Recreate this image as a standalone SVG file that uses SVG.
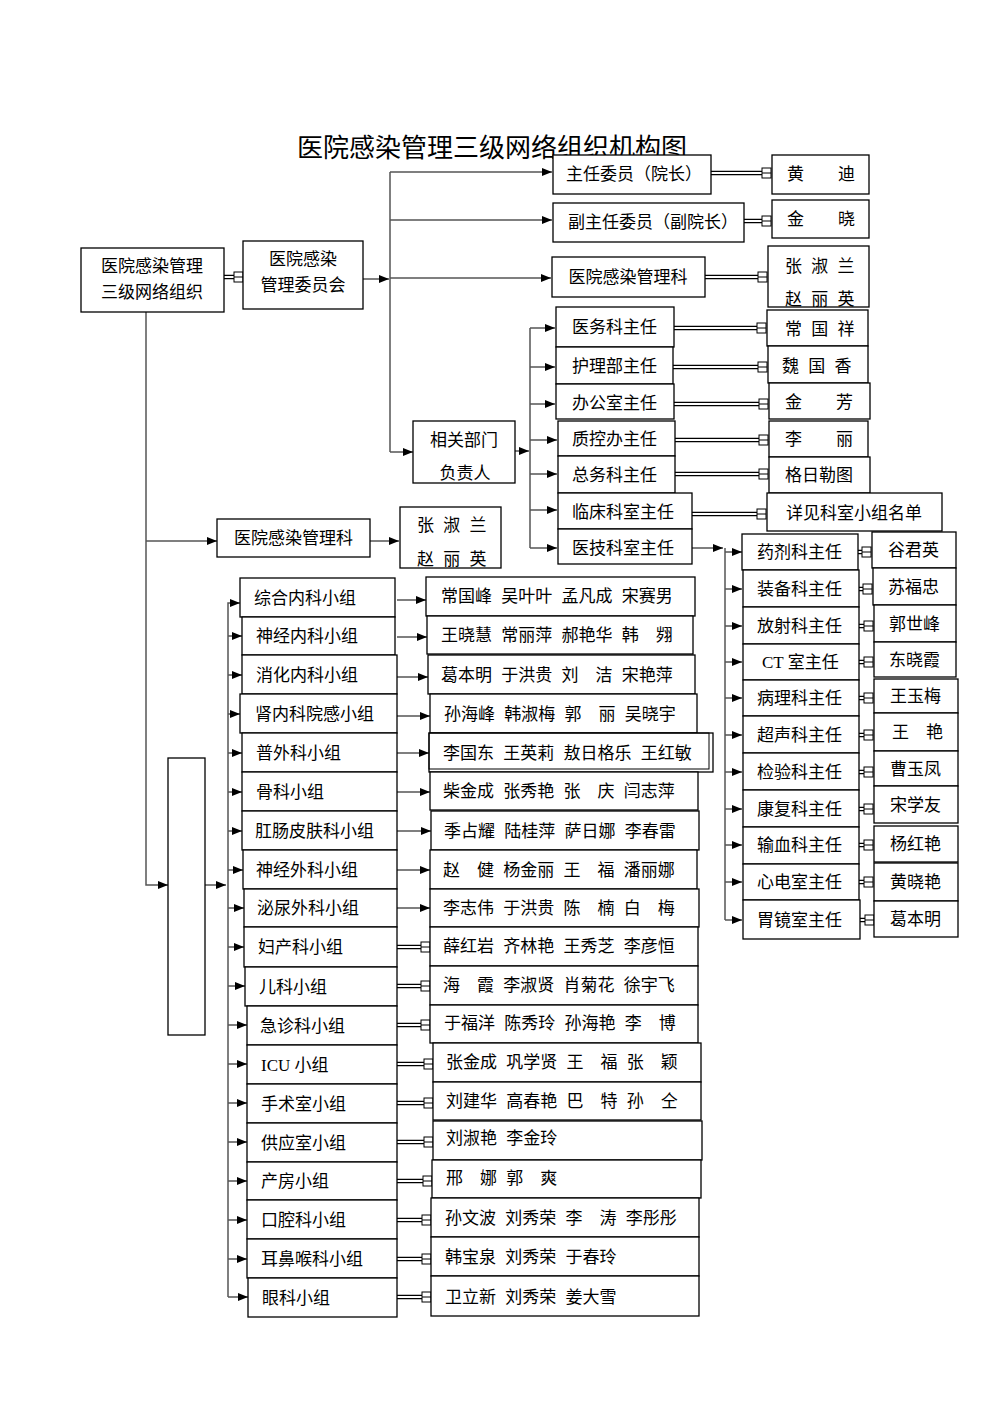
<svg xmlns="http://www.w3.org/2000/svg" xmlns:xlink="http://www.w3.org/1999/xlink" width="992" height="1404" viewBox="0 0 992 1404">
<style>
.box{fill:#fff;stroke:#000;stroke-width:1.3}
.t{font-family:"Liberation Serif","Noto Sans CJK SC",serif;font-size:17px;fill:#000;word-spacing:5px}
.nw{word-spacing:0}
.c{text-anchor:middle}
.title{font-family:"Liberation Serif","Noto Sans CJK SC",serif;font-size:26px;fill:#000;text-anchor:middle}
.ln{fill:none;stroke:#555;stroke-width:1.5}
.arr{marker-end:url(#ah)}
.dbo{fill:none;stroke:#000;stroke-width:4.5}
.dbi{fill:none;stroke:#fff;stroke-width:2}
</style>
<defs>
<marker id="ah" markerUnits="userSpaceOnUse" markerWidth="11" markerHeight="9" refX="10" refY="4" orient="auto"><path d="M0,0 L10,4 L0,8 z" fill="#000"/></marker>
<g id="sq"><rect x="0" y="-5" width="9" height="10" fill="#fff" stroke="#000" stroke-width="1"/><line x1="0" y1="0" x2="9" y2="0" stroke="#000" stroke-width="1"/></g>
</defs>
<rect width="992" height="1404" fill="#fff"/>
<text class="title" x="492" y="157">医院感染管理三级网络组织机构图</text>

<g id="connectors">
<path class="ln arr" d="M363 279 H389"/>
<path class="ln" d="M390 172 V452"/>
<path class="ln arr" d="M390 172 H552"/>
<path class="ln arr" d="M390 220 H552"/>
<path class="ln arr" d="M390 278 H551"/>
<path class="ln arr" d="M390 452 H413"/>
<path class="ln arr" d="M515 451 H529"/>
<path class="ln" d="M530 328 V548"/>
<path class="ln arr" d="M530 328 H555"/>
<path class="ln arr" d="M530 367 H555"/>
<path class="ln arr" d="M530 404 H555"/>
<path class="ln arr" d="M530 440 H557"/>
<path class="ln arr" d="M530 474 H557"/>
<path class="ln arr" d="M530 510 H557"/>
<path class="ln arr" d="M530 548 H557"/>
<path class="ln arr" d="M692 548 H723"/>
<path class="ln" d="M725 548 V920"/>
<path class="ln arr" d="M725 552 H742"/>
<path class="ln arr" d="M725 589 H742"/>
<path class="ln arr" d="M725 626 H742"/>
<path class="ln arr" d="M725 662 H742"/>
<path class="ln arr" d="M725 698 H742"/>
<path class="ln arr" d="M725 735 H742"/>
<path class="ln arr" d="M725 772 H742"/>
<path class="ln arr" d="M725 809 H742"/>
<path class="ln arr" d="M725 845 H742"/>
<path class="ln arr" d="M725 882 H742"/>
<path class="ln arr" d="M725 920 H742"/>
<path class="ln arr" d="M146 312 V885 H168"/>
<path class="ln arr" d="M146 541 H217"/>
<path class="ln arr" d="M370 541 H399"/>
<path class="ln arr" d="M205 885 H226"/>
<path class="ln arr" d="M228 1297 V603 H240"/>
<path class="ln arr" d="M228 1297 H248"/>
<path class="ln arr" d="M228 636 H242"/>
<path class="ln arr" d="M228 675 H242"/>
<path class="ln arr" d="M228 714 H240"/>
<path class="ln arr" d="M228 753 H242"/>
<path class="ln arr" d="M228 792 H242"/>
<path class="ln arr" d="M228 831 H242"/>
<path class="ln arr" d="M228 870 H243"/>
<path class="ln arr" d="M228 908 H244"/>
<path class="ln arr" d="M228 947 H244"/>
<path class="ln arr" d="M228 986 H245"/>
<path class="ln arr" d="M228 1025 H247"/>
<path class="ln arr" d="M228 1064 H247"/>
<path class="ln arr" d="M228 1103 H247"/>
<path class="ln arr" d="M228 1142 H247"/>
<path class="ln arr" d="M228 1181 H247"/>
<path class="ln arr" d="M228 1220 H247"/>
<path class="ln arr" d="M228 1259 H247"/>
<path class="ln arr" d="M397 600 H426"/>
<path class="ln arr" d="M397 637 H427"/>
<path class="ln arr" d="M397 677 H428"/>
<path class="ln arr" d="M397 716 H430"/>
<path class="ln arr" d="M397 753 H429"/>
<path class="ln arr" d="M397 792 H430"/>
<path class="ln arr" d="M397 831 H431"/>
<path class="ln arr" d="M397 870 H430"/>
<path class="ln arr" d="M397 908 H430"/>
<path class="dbo" d="M224 277 H236 M711 173 H764 M744 221 H764 M705 277 H760 M674 328 H759 M673 367 H759 M674 404 H760 M675 440 H761 M675 474 H761 M692 514 H758 M858 552 H864 M859 589 H864 M859 626 H865 M859 662 H865 M859 698 H865 M859 735 H865 M859 772 H865 M859 809 H865 M859 845 H865 M859 882 H865 M860 920 H866 M397 947 H424 M397 986 H424 M397 1025 H424 M397 1064 H427 M397 1103 H427 M397 1142 H427 M397 1181 H426 M397 1220 H425 M397 1259 H425 M397 1297 H425"/>
<path class="dbi" d="M224 277 H236 M711 173 H764 M744 221 H764 M705 277 H760 M674 328 H759 M673 367 H759 M674 404 H760 M675 440 H761 M675 474 H761 M692 514 H758 M858 552 H864 M859 589 H864 M859 626 H865 M859 662 H865 M859 698 H865 M859 735 H865 M859 772 H865 M859 809 H865 M859 845 H865 M859 882 H865 M860 920 H866 M397 947 H424 M397 986 H424 M397 1025 H424 M397 1064 H427 M397 1103 H427 M397 1142 H427 M397 1181 H426 M397 1220 H425 M397 1259 H425 M397 1297 H425"/>
<use xlink:href="#sq" x="234" y="277"/>
<use xlink:href="#sq" x="762" y="173"/>
<use xlink:href="#sq" x="762" y="221"/>
<use xlink:href="#sq" x="758" y="277"/>
<use xlink:href="#sq" x="757" y="328"/>
<use xlink:href="#sq" x="758" y="367"/>
<use xlink:href="#sq" x="759" y="404"/>
<use xlink:href="#sq" x="759" y="440"/>
<use xlink:href="#sq" x="759" y="474"/>
<use xlink:href="#sq" x="757" y="514"/>
<use xlink:href="#sq" x="862" y="552"/>
<use xlink:href="#sq" x="863" y="589"/>
<use xlink:href="#sq" x="864" y="626"/>
<use xlink:href="#sq" x="864" y="662"/>
<use xlink:href="#sq" x="864" y="698"/>
<use xlink:href="#sq" x="864" y="735"/>
<use xlink:href="#sq" x="864" y="772"/>
<use xlink:href="#sq" x="864" y="809"/>
<use xlink:href="#sq" x="864" y="845"/>
<use xlink:href="#sq" x="864" y="882"/>
<use xlink:href="#sq" x="865" y="920"/>
<use xlink:href="#sq" x="421" y="947"/>
<use xlink:href="#sq" x="421" y="986"/>
<use xlink:href="#sq" x="421" y="1025"/>
<use xlink:href="#sq" x="424" y="1064"/>
<use xlink:href="#sq" x="424" y="1103"/>
<use xlink:href="#sq" x="424" y="1142"/>
<use xlink:href="#sq" x="423" y="1181"/>
<use xlink:href="#sq" x="422" y="1220"/>
<use xlink:href="#sq" x="422" y="1259"/>
<use xlink:href="#sq" x="422" y="1297"/>
</g>

<g id="n-root"><rect class="box" x="81" y="248" width="143" height="64"/><text class="t c" x="152" y="272">医院感染管理</text><text class="t c" x="152" y="298">三级网络组织</text></g>
<g id="n-committee"><rect class="box" x="243" y="241" width="120" height="68"/><text class="t c" x="303" y="265">医院感染</text><text class="t c" x="303" y="291">管理委员会</text></g>
<g id="n-director"><rect class="box" x="553" y="155" width="158" height="39"/><text class="t c" x="634" y="180">主任委员（院长）</text></g>
<g id="n-huangdi"><rect class="box" x="772" y="155" width="97" height="39"/><text class="t" x="787" y="180">黄　　迪</text></g>
<g id="n-vice"><rect class="box" x="553" y="203" width="191" height="39"/><text class="t c" x="653" y="228">副主任委员（副院长）</text></g>
<g id="n-jinxiao"><rect class="box" x="772" y="200" width="97" height="38"/><text class="t" x="787" y="225">金　　晓</text></g>
<g id="n-office1"><rect class="box" x="552" y="257" width="153" height="40"/><text class="t c" x="628" y="283">医院感染管理科</text></g>
<g id="n-names1"><rect class="box" x="768" y="246" width="101" height="61"/><text class="t" x="785" y="272">张 淑 兰</text><text class="t" x="785" y="305">赵 丽 英</text></g>
<g id="n-related"><rect class="box" x="413" y="421" width="102" height="62"/><text class="t c" x="464" y="446">相关部门</text><text class="t c" x="465" y="479">负责人</text></g>

<g id="n-d1"><rect class="box" x="556" y="307" width="118" height="40"/><text class="t" x="572" y="333">医务科主任</text></g>
<g id="n-d2"><rect class="box" x="556" y="347" width="117" height="37"/><text class="t" x="572" y="372">护理部主任</text></g>
<g id="n-d3"><rect class="box" x="556" y="384" width="118" height="35"/><text class="t" x="572" y="409">办公室主任</text></g>
<g id="n-d4"><rect class="box" x="558" y="421" width="117" height="35"/><text class="t" x="572" y="445">质控办主任</text></g>
<g id="n-d5"><rect class="box" x="558" y="456" width="117" height="37"/><text class="t" x="572" y="481">总务科主任</text></g>
<g id="n-d6"><rect class="box" x="558" y="493" width="134" height="36"/><text class="t" x="572" y="518">临床科室主任</text></g>
<g id="n-d7"><rect class="box" x="558" y="529" width="134" height="35"/><text class="t" x="572" y="554">医技科室主任</text></g>
<g id="n-p1"><rect class="box" x="767" y="310" width="101" height="36"/><text class="t" x="785" y="335">常 国 祥</text></g>
<g id="n-p2"><rect class="box" x="768" y="346" width="100" height="37"/><text class="t" x="782" y="372">魏 国 香</text></g>
<g id="n-p3"><rect class="box" x="769" y="383" width="101" height="36"/><text class="t" x="785" y="408">金　　芳</text></g>
<g id="n-p4"><rect class="box" x="769" y="421" width="99" height="36"/><text class="t" x="785" y="445">李　　丽</text></g>
<g id="n-p5"><rect class="box" x="769" y="457" width="101" height="36"/><text class="t" x="785" y="481">格日勒图</text></g>
<g id="n-p6"><rect class="box" x="767" y="493" width="175" height="38"/><text class="t" x="786" y="519">详见科室小组名单</text></g>

<g id="n-t1"><rect class="box" x="742" y="534" width="116" height="36"/><text class="t" x="757" y="558">药剂科主任</text></g>
<g id="n-t2"><rect class="box" x="743" y="570" width="116" height="37"/><text class="t" x="757" y="595">装备科主任</text></g>
<g id="n-t3"><rect class="box" x="743" y="607" width="116" height="37"/><text class="t" x="757" y="632">放射科主任</text></g>
<g id="n-t4"><rect class="box" x="743" y="644" width="116" height="36"/><text class="t nw" x="762" y="668">CT 室主任</text></g>
<g id="n-t5"><rect class="box" x="743" y="680" width="116" height="36"/><text class="t" x="757" y="704">病理科主任</text></g>
<g id="n-t6"><rect class="box" x="743" y="716" width="116" height="37"/><text class="t" x="757" y="741">超声科主任</text></g>
<g id="n-t7"><rect class="box" x="743" y="753" width="116" height="37"/><text class="t" x="757" y="778">检验科主任</text></g>
<g id="n-t8"><rect class="box" x="743" y="790" width="116" height="37"/><text class="t" x="757" y="815">康复科主任</text></g>
<g id="n-t9"><rect class="box" x="743" y="827" width="116" height="37"/><text class="t" x="757" y="851">输血科主任</text></g>
<g id="n-t10"><rect class="box" x="743" y="864" width="116" height="36"/><text class="t" x="757" y="888">心电室主任</text></g>
<g id="n-t11"><rect class="box" x="743" y="900" width="117" height="39"/><text class="t" x="757" y="926">胃镜室主任</text></g>
<g id="n-q1"><rect class="box" x="872" y="532" width="84" height="36"/><text class="t" x="888" y="556">谷君英</text></g>
<g id="n-q2"><rect class="box" x="873" y="568" width="83" height="37"/><text class="t" x="888" y="593">苏福忠</text></g>
<g id="n-q3"><rect class="box" x="874" y="605" width="82" height="37"/><text class="t" x="889" y="630">郭世峰</text></g>
<g id="n-q4"><rect class="box" x="874" y="642" width="82" height="35"/><text class="t" x="889" y="666">东晓霞</text></g>
<g id="n-q5"><rect class="box" x="874" y="679" width="84" height="34"/><text class="t" x="890" y="702">王玉梅</text></g>
<g id="n-q6"><rect class="box" x="874" y="713" width="84" height="38"/><text class="t" x="892" y="738">王　艳</text></g>
<g id="n-q7"><rect class="box" x="874" y="751" width="84" height="35"/><text class="t" x="890" y="775">曹玉凤</text></g>
<g id="n-q8"><rect class="box" x="874" y="786" width="84" height="37"/><text class="t" x="890" y="811">宋学友</text></g>
<g id="n-q9"><rect class="box" x="874" y="826" width="84" height="36"/><text class="t" x="890" y="850">杨红艳</text></g>
<g id="n-q10"><rect class="box" x="874" y="863" width="84" height="38"/><text class="t" x="890" y="888">黄晓艳</text></g>
<g id="n-q11"><rect class="box" x="874" y="901" width="84" height="36"/><text class="t" x="890" y="925">葛本明</text></g>

<g id="n-office2"><rect class="box" x="217" y="519" width="153" height="38"/><text class="t" x="234" y="544">医院感染管理科</text></g>
<g id="n-names2"><rect class="box" x="400" y="507" width="101" height="61"/><text class="t" x="417" y="531">张 淑 兰</text><text class="t" x="417" y="565">赵 丽 英</text></g>
<g id="n-blank"><rect class="box" x="168" y="758" width="37" height="277"/></g>

<g id="n-g1"><rect class="box" x="240" y="578" width="155" height="39"/><text class="t" x="254" y="604">综合内科小组</text></g>
<g id="n-g2"><rect class="box" x="242" y="617" width="153" height="38"/><text class="t" x="256" y="642">神经内科小组</text></g>
<g id="n-g3"><rect class="box" x="242" y="655" width="155" height="39"/><text class="t" x="256" y="681">消化内科小组</text></g>
<g id="n-g4"><rect class="box" x="240" y="694" width="157" height="39"/><text class="t" x="255" y="720">肾内科院感小组</text></g>
<g id="n-g5"><rect class="box" x="242" y="733" width="155" height="39"/><text class="t" x="256" y="759">普外科小组</text></g>
<g id="n-g6"><rect class="box" x="242" y="772" width="155" height="39"/><text class="t" x="256" y="798">骨科小组</text></g>
<g id="n-g7"><rect class="box" x="242" y="811" width="155" height="39"/><text class="t" x="255" y="837">肛肠皮肤科小组</text></g>
<g id="n-g8"><rect class="box" x="243" y="850" width="154" height="39"/><text class="t" x="256" y="876">神经外科小组</text></g>
<g id="n-g9"><rect class="box" x="244" y="889" width="153" height="38"/><text class="t" x="257" y="914">泌尿外科小组</text></g>
<g id="n-g10"><rect class="box" x="244" y="927" width="153" height="40"/><text class="t" x="258" y="953">妇产科小组</text></g>
<g id="n-g11"><rect class="box" x="245" y="967" width="152" height="39"/><text class="t" x="259" y="993">儿科小组</text></g>
<g id="n-g12"><rect class="box" x="247" y="1006" width="150" height="39"/><text class="t" x="260" y="1032">急诊科小组</text></g>
<g id="n-g13"><rect class="box" x="247" y="1045" width="150" height="39"/><text class="t nw" x="261" y="1071">ICU 小组</text></g>
<g id="n-g14"><rect class="box" x="247" y="1084" width="150" height="39"/><text class="t" x="261" y="1110">手术室小组</text></g>
<g id="n-g15"><rect class="box" x="247" y="1123" width="150" height="39"/><text class="t" x="261" y="1149">供应室小组</text></g>
<g id="n-g16"><rect class="box" x="247" y="1162" width="150" height="38"/><text class="t" x="261" y="1187">产房小组</text></g>
<g id="n-g17"><rect class="box" x="247" y="1200" width="150" height="39"/><text class="t" x="261" y="1226">口腔科小组</text></g>
<g id="n-g18"><rect class="box" x="247" y="1239" width="150" height="39"/><text class="t" x="261" y="1265">耳鼻喉科小组</text></g>
<g id="n-g19"><rect class="box" x="248" y="1278" width="149" height="39"/><text class="t" x="262" y="1304">眼科小组</text></g>

<g id="n-m1"><rect class="box" x="426" y="577" width="269" height="39"/><text class="t" x="441" y="602">常国峰 吴叶叶 孟凡成 宋赛男</text></g>
<g id="n-m2"><rect class="box" x="427" y="616" width="266" height="38"/><text class="t" x="441" y="641">王晓慧 常丽萍 郝艳华 韩　翙</text></g>
<g id="n-m3"><rect class="box" x="428" y="655" width="267" height="39"/><text class="t" x="441" y="681">葛本明 于洪贵 刘　洁 宋艳萍</text></g>
<g id="n-m4"><rect class="box" x="430" y="694" width="267" height="39"/><text class="t" x="444" y="720">孙海峰 韩淑梅 郭　丽 吴晓宇</text></g>
<g id="n-m5"><rect class="box" x="429" y="733" width="284" height="39"/><rect x="429" y="733" width="280" height="36" fill="none" stroke="#000" stroke-width="1"/><text class="t" x="443" y="759">李国东 王英莉 敖日格乐 王红敏</text></g>
<g id="n-m6"><rect class="box" x="430" y="772" width="268" height="38"/><text class="t" x="443" y="797">柴金成 张秀艳 张　庆 闫志萍</text></g>
<g id="n-m7"><rect class="box" x="431" y="811" width="268" height="39"/><text class="t" x="444" y="837">季占耀 陆桂萍 萨日娜 李春雷</text></g>
<g id="n-m8"><rect class="box" x="430" y="850" width="267" height="39"/><text class="t" x="443" y="876">赵　健 杨金丽 王　福 潘丽娜</text></g>
<g id="n-m9"><rect class="box" x="430" y="889" width="269" height="38"/><text class="t" x="443" y="914">李志伟 于洪贵 陈　楠 白　梅</text></g>
<g id="n-m10"><rect class="box" x="430" y="927" width="268" height="39"/><text class="t" x="443" y="952">薛红岩 齐林艳 王秀芝 李彦恒</text></g>
<g id="n-m11"><rect class="box" x="430" y="966" width="268" height="39"/><text class="t" x="443" y="991">海　霞 李淑贤 肖菊花 徐宇飞</text></g>
<g id="n-m12"><rect class="box" x="430" y="1005" width="268" height="38"/><text class="t" x="444" y="1029">于福洋 陈秀玲 孙海艳 李　博</text></g>
<g id="n-m13"><rect class="box" x="433" y="1043" width="268" height="39"/><text class="t" x="446" y="1068">张金成 巩学贤 王　福 张　颖</text></g>
<g id="n-m14"><rect class="box" x="433" y="1082" width="268" height="38"/><text class="t" x="446" y="1107">刘建华 高春艳 巴　特 孙　仝</text></g>
<g id="n-m15"><rect class="box" x="433" y="1121" width="269" height="39"/><text class="t" x="446" y="1144">刘淑艳 李金玲</text></g>
<g id="n-m16"><rect class="box" x="432" y="1160" width="269" height="38"/><text class="t" x="446" y="1184">邢　娜 郭　爽</text></g>
<g id="n-m17"><rect class="box" x="431" y="1198" width="268" height="39"/><text class="t" x="445" y="1224">孙文波 刘秀荣 李　涛 李彤彤</text></g>
<g id="n-m18"><rect class="box" x="431" y="1237" width="268" height="39"/><text class="t" x="445" y="1263">韩宝泉 刘秀荣 于春玲</text></g>
<g id="n-m19"><rect class="box" x="431" y="1276" width="268" height="40"/><text class="t" x="445" y="1303">卫立新 刘秀荣 姜大雪</text></g>
</svg>
